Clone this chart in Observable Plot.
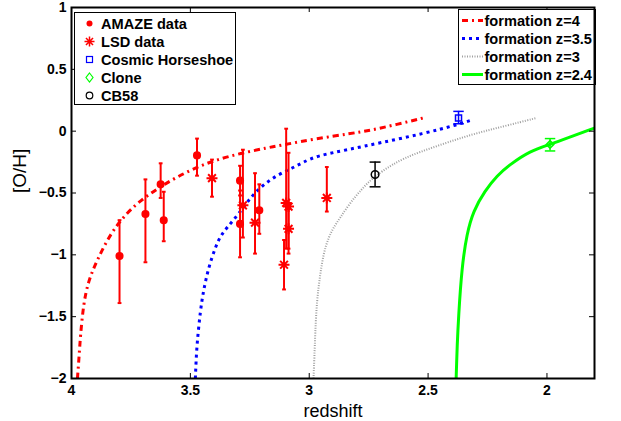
<!DOCTYPE html>
<html><head><meta charset="utf-8">
<script src="https://cdn.jsdelivr.net/npm/d3@7"></script>
<script src="https://cdn.jsdelivr.net/npm/@observablehq/plot@0.6"></script>
<style>body{margin:0;background:#fff} svg{display:block}</style>
</head><body><div id="chart"></div>
<script>
// ---- tick labels ----
const xTicks = [4, 3.5, 3, 2.5, 2];
const yTicks = [-2, -1.5, -1, -0.5, 0, 0.5, 1];

// ---- AMAZE data (filled dots) ----
const amazeZ  = [3.798, 3.689, 3.625, 3.612, 3.472, 3.291, 3.291, 3.210];
const amazeOH = [-1.01, -0.67, -0.43, -0.72, -0.196, -0.40, -0.75, -0.64];
const amazeLo = [-1.39, -1.06, -0.54, -0.89, -0.36, -0.52, -1.02, -0.83];
const amazeHi = [-0.72, -0.39, -0.26, -0.49, -0.06, -0.28, -0.48, -0.43];

// ---- LSD data (asterisks) ----
const lsdZ  = [3.409, 3.279, 3.228, 3.097, 3.087, 3.087, 3.106, 2.926];
const lsdOH = [-0.38, -0.60, -0.74, -0.58, -0.61, -0.79, -1.08, -0.54];
const lsdLo = [-0.53, -0.86, -0.99, -0.95, -0.99, -0.95, -1.28, -0.65];
const lsdHi = [-0.23, -0.15, -0.34, 0.02, -0.175, -0.63, -0.88, -0.29];

// ---- single objects ----
const horseZ = [2.372], horseOH = [0.107], horseLo = [0.06], horseHi = [0.16];
const cloneZ = [1.987], cloneOH = [-0.107], cloneLo = [-0.16], cloneHi = [-0.06];
const cb58Z = [2.723], cb58OH = [-0.35], cb58Lo = [-0.45], cb58Hi = [-0.25];

// ---- formation curves ----
const z4Z  = [3.975, 3.968, 3.963, 3.95, 3.929, 3.894, 3.837, 3.768, 3.696, 3.626, 3.556, 3.472, 3.388, 3.29, 3.178, 3.108, 2.968, 2.828, 2.744, 2.632, 2.52];
const z4OH = [-2, -1.82, -1.67, -1.40, -1.21, -1.05, -0.83, -0.66, -0.54, -0.45, -0.37, -0.29, -0.23, -0.18, -0.135, -0.11, -0.06, -0.02, 0.006, 0.054, 0.107];
const z35Z  = [3.479, 3.476, 3.472, 3.458, 3.444, 3.423, 3.395, 3.374, 3.346, 3.297, 3.241, 3.185, 3.129, 3.073, 3.024, 2.968, 2.84, 2.70, 2.52, 2.373, 2.31];
const z35OH = [-2, -1.86, -1.72, -1.45, -1.28, -1.10, -0.94, -0.85, -0.78, -0.67, -0.52, -0.42, -0.35, -0.30, -0.25, -0.20, -0.15, -0.094, -0.02, 0.054, 0.094];
const z3Z  = [2.982, 2.978, 2.975, 2.968, 2.954, 2.94, 2.919, 2.898, 2.87, 2.828, 2.78, 2.744, 2.70, 2.604, 2.463, 2.32, 2.18, 2.043];
const z3OH = [-2, -1.82, -1.64, -1.37, -1.16, -0.99, -0.86, -0.78, -0.70, -0.58, -0.47, -0.40, -0.33, -0.215, -0.12, -0.027, 0.04, 0.107];
const z24Z  = [2.382, 2.380, 2.378, 2.372, 2.358, 2.337, 2.31, 2.26, 2.21, 2.156, 2.071, 1.987, 1.875, 1.8];
const z24OH = [-2, -1.88, -1.75, -1.5, -1.10, -0.83, -0.645, -0.48, -0.36, -0.27, -0.16, -0.107, -0.027, 0.025];

// ---- legend labels ----
const pointLabels = ["AMAZE data", "LSD data", "Cosmic Horseshoe", "Clone", "CB58"];
const curveLabels = ["formation z=4", "formation z=3.5", "formation z=3", "formation z=2.4"];

const FONT = "'Liberation Sans', Arial, Helvetica, sans-serif";
const fmt = d => String(d).replace("-", "\u2212");

const pts = (z, oh, lo, hi) => z.map((d, i) => ({z: d, oh: oh[i], lo: lo ? lo[i] : null, hi: hi ? hi[i] : null}));
const amaze = pts(amazeZ, amazeOH, amazeLo, amazeHi);
const lsd = pts(lsdZ, lsdOH, lsdLo, lsdHi);
const horse = pts(horseZ, horseOH, horseLo, horseHi);
const clone = pts(cloneZ, cloneOH, cloneLo, cloneHi);
const cb58 = pts(cb58Z, cb58OH, cb58Lo, cb58Hi);
const c4 = pts(z4Z, z4OH), c35 = pts(z35Z, z35OH), c3 = pts(z3Z, z3OH), c24 = pts(z24Z, z24OH);

const star8 = {draw(ctx, size) {
  const r = Math.sqrt(size / Math.PI), d = r * Math.SQRT1_2;
  ctx.moveTo(-r, 0); ctx.lineTo(r, 0); ctx.moveTo(0, -r); ctx.lineTo(0, r);
  ctx.moveTo(-d, -d); ctx.lineTo(d, d); ctx.moveTo(-d, d); ctx.lineTo(d, -d);
}};

function errBars(data, color, cap, width) {
  return [
    Plot.ruleX(data, {x: "z", y1: "lo", y2: "hi", stroke: color, strokeWidth: width}),
    Plot.link(data, {x1: d => d.z + cap, x2: d => d.z - cap, y1: "lo", y2: "lo", stroke: color, strokeWidth: width}),
    Plot.link(data, {x1: d => d.z + cap, x2: d => d.z - cap, y1: "hi", y2: "hi", stroke: color, strokeWidth: width})
  ];
}

const curveStyles = [
  {color: "#ff0000", width: 3, dash: "6,4,2,4"},
  {color: "#0000ff", width: 3, dash: "3,4"},
  {color: "#a0a0a0", width: 2, dash: "1,1.5"},
  {color: "#00ff00", width: 3, dash: null}
];

const LEG_FS = 14.6;

function legendPoints() {
  const g = d3.create("svg:g").attr("font-family", FONT).attr("font-weight", "bold").attr("font-size", LEG_FS).attr("text-anchor", "start");
  g.append("rect").attr("x", 74.5).attr("y", 12.5).attr("width", 161).attr("height", 92).attr("fill", "white").attr("stroke", "black");
  pointLabels.forEach((t, i) => {
    const y = 23.5 + i * 18, x = 89.5;
    if (i === 0) g.append("circle").attr("cx", x).attr("cy", y).attr("r", 3).attr("fill", "red");
    if (i === 1) g.append("path").attr("d", d3.symbol(star8, 5 * 5 * Math.PI)()).attr("transform", `translate(${x},${y})`).attr("stroke", "red").attr("stroke-width", 1.5).attr("fill", "none");
    if (i === 2) g.append("rect").attr("x", x - 3).attr("y", y - 3).attr("width", 6).attr("height", 6).attr("fill", "none").attr("stroke", "blue").attr("stroke-width", 1.2);
    if (i === 3) g.append("path").attr("d", `M${x},${y-4.5}L${x+3.5},${y}L${x},${y+4.5}L${x-3.5},${y}Z`).attr("fill", "none").attr("stroke", "#00ff00").attr("stroke-width", 1.2);
    if (i === 4) g.append("circle").attr("cx", x).attr("cy", y).attr("r", 3.3).attr("fill", "none").attr("stroke", "black").attr("stroke-width", 1.2);
    g.append("text").attr("x", 101).attr("y", y).attr("dy", "0.36em").attr("fill", "black").text(t);
  });
  return g.node();
}

function legendCurves() {
  const g = d3.create("svg:g").attr("font-family", FONT).attr("font-weight", "bold").attr("font-size", LEG_FS).attr("text-anchor", "start");
  g.append("rect").attr("x", 458.5).attr("y", 9.5).attr("width", 137).attr("height", 75).attr("fill", "white").attr("stroke", "black");
  curveLabels.forEach((t, i) => {
    const y = 20.5 + i * 18, s = curveStyles[i];
    g.append("line").attr("x1", 462).attr("x2", 483).attr("y1", y).attr("y2", y)
      .attr("stroke", s.color).attr("stroke-width", s.width).attr("stroke-dasharray", s.dash);
    g.append("text").attr("x", 484.5).attr("y", y).attr("dy", "0.36em").attr("fill", "black").text(t);
  });
  return g.node();
}

const W = 621, H = 421, ML = 71, MR = 27, MT = 7, MB = 43;
const FW = W - ML - MR, FH = H - MT - MB;

const lineOpts = (s) => ({x: "z", y: "oh", stroke: s.color, strokeWidth: s.width, strokeDasharray: s.dash ?? undefined, strokeLinecap: "butt", curve: "basis", clip: true});

const plot = Plot.plot({
  width: W, height: H,
  marginLeft: ML, marginRight: MR, marginTop: MT, marginBottom: MB,
  style: {fontFamily: FONT, background: "white", color: "black"},
  x: {domain: [4, 1.8], axis: null},
  y: {domain: [-2, 1], axis: null},
  marks: [
    // curves
    Plot.line(c4, lineOpts(curveStyles[0])),
    Plot.line(c35, lineOpts(curveStyles[1])),
    Plot.line(c3, lineOpts(curveStyles[2])),
    Plot.line(c24, lineOpts(curveStyles[3])),
    // error bars & points
    ...errBars(amaze, "red", 0.008, 2),
    ...errBars(lsd, "red", 0.008, 2),
    Plot.dot(amaze, {x: "z", y: "oh", r: 3.3, fill: "red", stroke: "red"}),
    Plot.dot(lsd, {x: "z", y: "oh", r: 5.5, symbol: star8, stroke: "red", strokeWidth: 2, fill: "none"}),
    ...errBars(horse, "blue", 0.022, 1.5),
    Plot.dot(horse, {x: "z", y: "oh", r: 3.4, symbol: "square", stroke: "blue", strokeWidth: 1.5, fill: "none"}),
    ...errBars(clone, "#00ff00", 0.022, 1.5),
    Plot.dot(clone, {x: "z", y: "oh", r: 3.4, symbol: "diamond2", stroke: "#00ff00", strokeWidth: 1.5, fill: "none"}),
    ...errBars(cb58, "black", 0.023, 1.5),
    Plot.dot(cb58, {x: "z", y: "oh", r: 3.8, stroke: "black", strokeWidth: 1.5, fill: "none"}),
    // axes: inward ticks
    Plot.tickX(xTicks, {x: d => d, insetTop: FH - 5, stroke: "black"}),
    Plot.tickX(xTicks, {x: d => d, insetBottom: FH - 5, stroke: "black"}),
    Plot.tickY(yTicks, {y: d => d, insetRight: FW - 5, stroke: "black"}),
    Plot.tickY(yTicks, {y: d => d, insetLeft: FW - 5, stroke: "black"}),
    Plot.axisX(xTicks, {tickSize: 0, tickPadding: 7, fontSize: 14, fontWeight: "bold", tickFormat: fmt, label: null}),
    Plot.axisY(yTicks, {tickSize: 0, tickPadding: 5, fontSize: 14, fontWeight: "bold", tickFormat: fmt, label: null}),
    Plot.text(["redshift"], {frameAnchor: "bottom", dy: 38, lineAnchor: "bottom", fontSize: 18, fill: "black"}),
    Plot.text(["[O/H]"], {frameAnchor: "left", dx: -52, rotate: -90, fontSize: 19, fill: "black"}),
    // legends
    legendPoints,
    legendCurves,
    Plot.frame({stroke: "black", strokeWidth: 2})
  ]
});
document.getElementById("chart").appendChild(plot);
</script>
</body></html>
